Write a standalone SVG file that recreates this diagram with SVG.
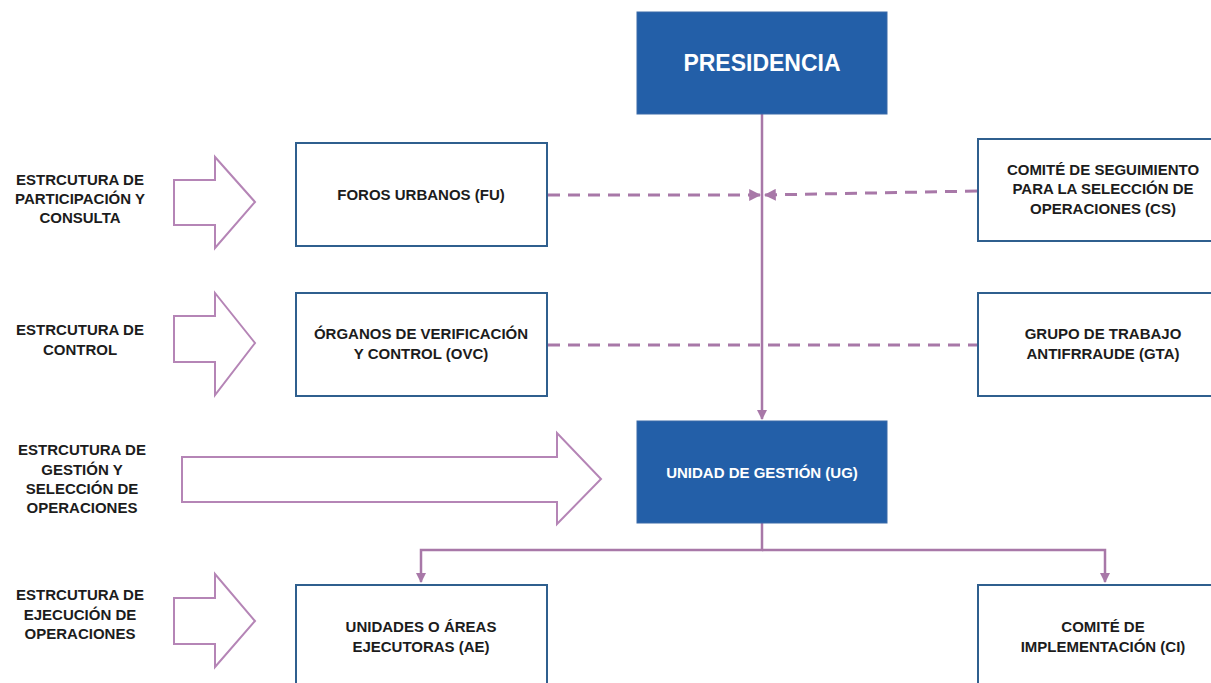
<svg xmlns="http://www.w3.org/2000/svg" width="1211" height="683" viewBox="0 0 1211 683">
<style>
.box{fill:#ffffff;stroke:#2f5f8e;stroke-width:2}
.dark{fill:#235fa8;stroke:#3a6aa8;stroke-width:1}
.t{font-family:"Liberation Sans",Arial,sans-serif;font-weight:bold;font-size:15px;fill:#1c1c1c;text-anchor:middle}
.w{fill:#ffffff}
.blk{fill:#ffffff;stroke:#b585b6;stroke-width:2}
.ln{fill:none;stroke:#a878a8;stroke-width:2.5}
.dash{fill:none;stroke:#a878a8;stroke-width:3;stroke-dasharray:12 8}
</style>
<defs>
<marker id="ah" viewBox="0 0 10 10" refX="9" refY="5" markerWidth="4" markerHeight="4" orient="auto" markerUnits="strokeWidth">
<path d="M0,0 L10,5 L0,10 z" fill="#a878a8"/>
</marker>
</defs>
<rect width="1211" height="683" fill="#ffffff"/>

<g id="label-participacion">
<text class="t" x="80" y="185">ESTRCUTURA DE</text>
<text class="t" x="80" y="204">PARTICIPACIÓN Y</text>
<text class="t" x="80" y="223">CONSULTA</text>
</g>
<g id="label-control">
<text class="t" x="80" y="335">ESTRCUTURA DE</text>
<text class="t" x="80" y="355">CONTROL</text>
</g>
<g id="label-gestion">
<text class="t" x="82" y="455">ESTRCUTURA DE</text>
<text class="t" x="82" y="475">GESTIÓN Y</text>
<text class="t" x="82" y="494">SELECCIÓN DE</text>
<text class="t" x="82" y="513">OPERACIONES</text>
</g>
<g id="label-ejecucion">
<text class="t" x="80" y="600">ESTRCUTURA DE</text>
<text class="t" x="80" y="620">EJECUCIÓN DE</text>
<text class="t" x="80" y="639">OPERACIONES</text>
</g>

<g id="arrow-1"><polygon class="blk" points="174,180 215,180 215,157 255,202 215,248 215,225 174,225"/></g>
<g id="arrow-2"><polygon class="blk" points="174,316 215,316 215,293 255,343 215,395 215,362 174,362"/></g>
<g id="arrow-3"><polygon class="blk" points="182,457 557,457 557,433 601,479 557,524 557,502 182,502"/></g>
<g id="arrow-4"><polygon class="blk" points="174,598 215,598 215,574 255,621 215,667 215,644 174,644"/></g>

<g id="connectors">
<line class="ln" x1="762" y1="114" x2="762" y2="419" marker-end="url(#ah)"/>
<polyline class="ln" points="762,523 762,550 421,550 421,582" marker-end="url(#ah)"/>
<polyline class="ln" points="762,550 1105,550 1105,582" marker-end="url(#ah)"/>
<line class="dash" x1="548" y1="195" x2="760" y2="195" marker-end="url(#ah)"/>
<line class="dash" x1="977" y1="191" x2="765" y2="195" marker-end="url(#ah)"/>
<line class="dash" x1="548" y1="345" x2="977" y2="345"/>
</g>

<g id="presidencia">
<rect class="dark" x="637" y="12" width="250" height="102"/>
<text class="t w" x="762" y="71" style="font-size:23px">PRESIDENCIA</text>
</g>
<g id="ug">
<rect class="dark" x="637" y="421" width="250" height="102"/>
<text class="t w" x="762" y="478">UNIDAD DE GESTIÓN (UG)</text>
</g>
<g id="fu">
<rect class="box" x="296" y="143" width="251" height="103"/>
<text class="t" x="421" y="200">FOROS URBANOS (FU)</text>
</g>
<g id="ovc">
<rect class="box" x="296" y="293" width="251" height="103"/>
<text class="t" x="421" y="339">ÓRGANOS DE VERIFICACIÓN</text>
<text class="t" x="421" y="359">Y CONTROL (OVC)</text>
</g>
<g id="ae">
<rect class="box" x="296" y="585" width="251" height="110"/>
<text class="t" x="421" y="632">UNIDADES O ÁREAS</text>
<text class="t" x="421" y="652">EJECUTORAS (AE)</text>
</g>
<g id="cs">
<rect class="box" x="978" y="139" width="260" height="102"/>
<text class="t" x="1103" y="175">COMITÉ DE SEGUIMIENTO</text>
<text class="t" x="1103" y="194">PARA LA SELECCIÓN DE</text>
<text class="t" x="1103" y="214">OPERACIONES (CS)</text>
</g>
<g id="gta">
<rect class="box" x="978" y="293" width="260" height="103"/>
<text class="t" x="1103" y="339">GRUPO DE TRABAJO</text>
<text class="t" x="1103" y="359">ANTIFRRAUDE (GTA)</text>
</g>
<g id="ci">
<rect class="box" x="978" y="585" width="260" height="110"/>
<text class="t" x="1103" y="632">COMITÉ DE</text>
<text class="t" x="1103" y="652">IMPLEMENTACIÓN (CI)</text>
</g>
</svg>
